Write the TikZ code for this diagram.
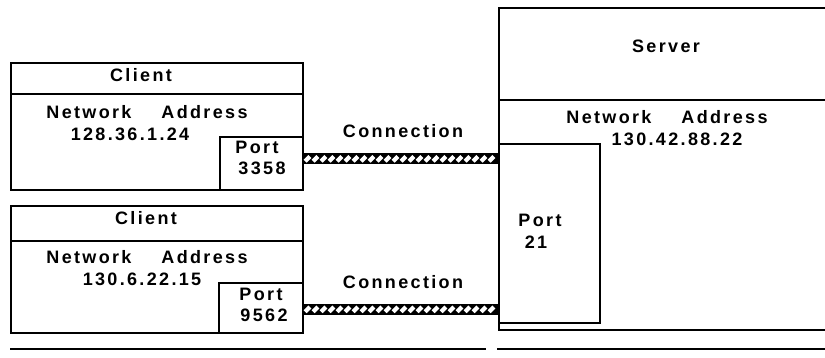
\documentclass[tikz,border=0pt]{standalone}
\usepackage{fontspec}
\setmainfont{Liberation Sans}[LetterSpace=13]
\usetikzlibrary{decorations.markings}
\tikzset{
  box/.style={draw, line width=1.6pt, anchor=north west, inner sep=0pt},
  lbl/.style={inner sep=0pt, font=\bfseries\fontsize{18}{20}\selectfont},
  conn/.style={line width=11pt, draw=black, postaction={decorate},
    decoration={markings, mark=between positions 0.02 and 0.98 step 8pt with
      {\draw[white, line width=4.2pt] (-2.4pt,-2.4pt) -- (2.4pt,2.4pt);}}},
  frame/.style={line width=2pt}
}
\begin{document}
\begin{tikzpicture}[x=1pt,y=-1pt]
\useasboundingbox (0,0) rectangle (825,357);
% Client 1
\node[box, minimum width=292pt, minimum height=31pt] (c1h) at (10,62) {};
\node[box, minimum width=292pt, minimum height=96pt] (c1) at (10,93) {};
\node[box, minimum width=83pt, minimum height=53pt] (p1) at (219,136) {};
\node[lbl] (c1t) at (141,75) {Client};
\node[lbl] (c1n) at (147,112) {Network\hspace{30pt}Address};
\node[lbl] (c1a) at (130,134) {128.36.1.24};
\node[lbl] (p1a) at (257,147) {Port};
\node[lbl] (p1b) at (262,168) {3358};
% Client 2
\node[box, minimum width=292pt, minimum height=35pt] (c2h) at (10,205) {};
\node[box, minimum width=292pt, minimum height=92pt] (c2) at (10,240) {};
\node[box, minimum width=84pt, minimum height=50pt] (p2) at (218,282) {};
\node[lbl] (c2t) at (146,218) {Client};
\node[lbl] (c2n) at (147,257) {Network\hspace{30pt}Address};
\node[lbl] (c2a) at (142,279) {130.6.22.15};
\node[lbl] (p2a) at (261,294) {Port};
\node[lbl] (p2b) at (264,315) {9562};
% Server
\node[box, minimum width=340pt, minimum height=92pt] (sh) at (498,7) {};
\node[box, minimum width=340pt, minimum height=230pt] (s) at (498,99) {};
\node[box, minimum width=101pt, minimum height=179pt] (sp) at (498,143) {};
\node[lbl] (st) at (666,46) {Server};
\node[lbl] (sn) at (667,117) {Network\hspace{30pt}Address};
\node[lbl] (sa) at (677,139) {130.42.88.22};
\node[lbl] (spa) at (540,220) {Port};
\node[lbl] (spb) at (536,242) {21};
% Connections
\draw[conn] ([yshift=4.5pt]p1.east) -- ([yshift=4.5pt]p1.east -| sp.west);
\node[lbl] (k1) at (403,131) {Connection};
\draw[conn] ([yshift=-1.5pt]p2.east) -- ([yshift=-1.5pt]p2.east -| sp.west);
\node[lbl] (k2) at (403,282) {Connection};
% bottom frame line
\draw[frame] (10,349) -- (486,349);
\draw[frame] (497,349) -- (825,349);
\end{tikzpicture}
\end{document}
